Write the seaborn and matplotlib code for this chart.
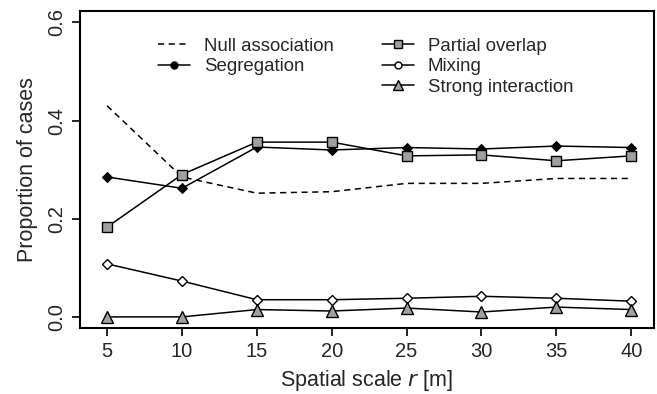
import numpy as np
import pandas as pd
import matplotlib
matplotlib.use('Agg')
import matplotlib.pyplot as plt
import seaborn as sns
from matplotlib.lines import Line2D

scale = [5, 10, 15, 20, 25, 30, 35, 40]
null_assoc = [0.430, 0.285, 0.252, 0.255, 0.272, 0.272, 0.282, 0.282]
segregation = [0.285, 0.262, 0.346, 0.340, 0.345, 0.342, 0.348, 0.345]
partial_overlap = [0.183, 0.290, 0.356, 0.356, 0.328, 0.330, 0.318, 0.328]
mixing = [0.108, 0.073, 0.035, 0.035, 0.038, 0.042, 0.038, 0.032]
strong_inter = [0.000, 0.000, 0.015, 0.012, 0.018, 0.010, 0.020, 0.015]

sns.set_style('white')
plt.rcParams['font.family'] = ['Liberation Sans', 'DejaVu Sans']

grey = '#a0a0a0'
fig = plt.figure(figsize=(6.57, 3.94), dpi=100)
ax = fig.add_axes([0.122, 0.167, 0.873, 0.805])

sns.lineplot(x=scale, y=null_assoc, ax=ax, color='black', lw=1.1, linestyle=(0, (4, 3)))
sns.lineplot(x=scale, y=segregation, ax=ax, color='black', lw=1.1, marker='D', markersize=5,
             markerfacecolor='black', markeredgecolor='black')
sns.lineplot(x=scale, y=partial_overlap, ax=ax, color='black', lw=1.1, marker='s', markersize=7,
             markerfacecolor=grey, markeredgecolor='black', markeredgewidth=1)
sns.lineplot(x=scale, y=mixing, ax=ax, color='black', lw=1.1, marker='D', markersize=5.5,
             markerfacecolor='white', markeredgecolor='black', markeredgewidth=1)
sns.lineplot(x=scale, y=strong_inter, ax=ax, color='black', lw=1.1, marker='^', markersize=9,
             markerfacecolor=grey, markeredgecolor='black', markeredgewidth=1)

ax.set_xlim(3.2, 41.5)
ax.set_ylim(-0.023, 0.623)
ax.set_xticks(scale)
ax.set_yticks([0.0, 0.2, 0.4, 0.6])
ax.set_yticklabels(['0.0', '0.2', '0.4', '0.6'], rotation=90, va='center')
ax.tick_params(axis='both', direction='out', length=6, width=1.2, labelsize=14.5, color='black',
               left=True, bottom=True, pad=4)
for s in ax.spines.values():
    s.set_color('black')
    s.set_linewidth(1.5)
ax.set_xlabel('Spatial scale $\\it{r}$ [m]', fontsize=15.5, labelpad=5)
ax.set_ylabel('Proportion of cases', fontsize=15.5, labelpad=7)

handles = [
    Line2D([], [], color='black', lw=1.1, linestyle=(0, (4, 3))),
    Line2D([], [], color='black', lw=1.1, marker='o', markersize=5, markerfacecolor='black'),
    Line2D([], [], color='none'),
    Line2D([], [], color='black', lw=1.1, marker='s', markersize=6, markerfacecolor=grey),
    Line2D([], [], color='black', lw=1.1, marker='o', markersize=5, markerfacecolor='white'),
    Line2D([], [], color='black', lw=1.1, marker='^', markersize=7, markerfacecolor=grey),
]
labels = ['Null association', 'Segregation', '', 'Partial overlap', 'Mixing', 'Strong interaction']
ax.legend(handles, labels, ncol=2, frameon=False, fontsize=13.4, loc='upper left',
          bbox_to_anchor=(0.107, 0.968), handlelength=1.7, handletextpad=0.75,
          columnspacing=2.6, labelspacing=0.18, borderpad=0.4)

fig.savefig('out.png', dpi=100)
